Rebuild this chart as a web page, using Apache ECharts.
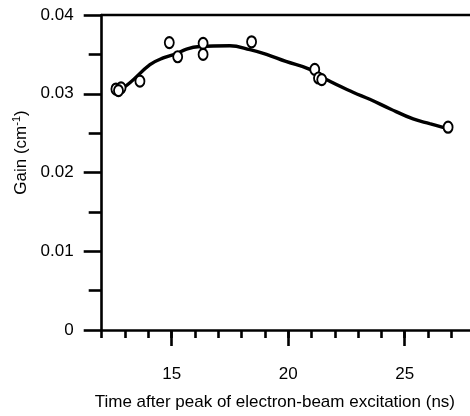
<!DOCTYPE html>
<html>
<head>
<meta charset="utf-8">
<script src="https://cdn.jsdelivr.net/npm/echarts@6/dist/echarts.min.js"></script>
<style>
  html, body { margin: 0; padding: 0; background: #fff; }
  #chart { width: 470px; height: 416px; }
</style>
</head>
<body>
<div id="chart"></div>
<script>
// Measured gain (open circles)
const measuredTime = [12.61, 12.83, 12.72, 13.64, 14.90, 15.26, 16.35, 16.35, 18.43, 21.14, 21.30, 21.44, 26.86];
const measuredGain = [0.0306, 0.03075, 0.0304, 0.0316, 0.0365, 0.0347, 0.0364, 0.0350, 0.0366, 0.0331, 0.0320, 0.0318, 0.02575];

// Model curve
const curveTime = [12.64, 13.21, 14.07, 14.64, 15.21, 15.64, 16.21, 17.5, 18.36, 19.07, 19.9, 20.93, 21.64, 22.78, 23.5, 24.36, 25.36, 26.07, 26.79];
const curveGain = [0.03015, 0.0314, 0.0337, 0.03455, 0.0351, 0.03568, 0.0360, 0.0361, 0.0356, 0.0350, 0.0341, 0.0331, 0.0318, 0.0302, 0.0293, 0.0281, 0.0268, 0.0262, 0.0256];

// Axis ticks
const xMajorTicks = [15, 20, 25];
const xMinorTicks = [12, 13, 14, 15, 16, 17, 18, 19, 20, 21, 22, 23, 24, 25, 26, 27];
const yTickLabels = ['0', '0.01', '0.02', '0.03', '0.04'];

const FONT = 'Liberation Sans, Arial, Helvetica, sans-serif';
const INK = '#000';

const chart = echarts.init(document.getElementById('chart'), null, { renderer: 'canvas' });

const pair = (xs, ys) => xs.map((x, i) => [x, ys[i]]);

chart.setOption({
  animation: false,
  backgroundColor: '#fff',
  grid: { left: 101.7, right: 0, top: 15, bottom: 82.7, containLabel: false },
  xAxis: [
    {
      type: 'value', min: 12, max: 27.8,
      name: 'Time after peak of electron-beam excitation (ns)',
      nameLocation: 'middle', nameGap: 64,
      nameTextStyle: { color: INK, fontFamily: FONT, fontSize: 17, padding: [0, 22, 0, 0] },
      axisLine: { show: true, lineStyle: { color: INK, width: 2.6 } },
      axisTick: { show: true, length: 16, customValues: xMajorTicks, lineStyle: { color: INK, width: 2.6 } },
      axisLabel: { show: true, customValues: xMajorTicks, margin: 36, color: INK, fontFamily: FONT, fontSize: 17 },
      splitLine: { show: false }
    },
    {
      type: 'value', min: 12, max: 27.8, position: 'bottom',
      axisLine: { show: false },
      axisTick: { show: true, length: 8, customValues: xMinorTicks, lineStyle: { color: INK, width: 2.6 } },
      axisLabel: { show: false },
      splitLine: { show: false }
    },
    {
      type: 'value', min: 12, max: 27.8, position: 'top',
      axisLine: { show: true, onZero: false, lineStyle: { color: INK, width: 2.4 } },
      axisTick: { show: false },
      axisLabel: { show: false },
      splitLine: { show: false }
    }
  ],
  yAxis: {
    type: 'value', min: 0, max: 0.04, interval: 0.01,
    name: '{n|Gain (cm}{sup|-1}{n|)}',
    nameLocation: 'middle', nameGap: 70, nameRotate: 90,
    nameTextStyle: {
      color: INK, fontFamily: FONT, fontSize: 17, padding: [0, 0, 0, 40],
      rich: {
        n: { color: INK, fontFamily: FONT, fontSize: 17 },
        sup: { color: INK, fontFamily: FONT, fontSize: 11, padding: [0, 0, 8, 0] }
      }
    },
    axisLine: { show: true, onZero: false, lineStyle: { color: INK, width: 2.6 } },
    axisTick: { show: true, length: 18, lineStyle: { color: INK, width: 2.6 } },
    minorTick: { show: true, splitNumber: 2, length: 13, lineStyle: { color: INK, width: 2.6 } },
    axisLabel: {
      margin: 28, color: INK, fontFamily: FONT, fontSize: 17,
      formatter: (v) => yTickLabels[Math.round(v / 0.01)]
    },
    splitLine: { show: false },
    minorSplitLine: { show: false }
  },
  series: [
    {
      type: 'line', xAxisIndex: 0,
      data: pair(curveTime, curveGain),
      smooth: 0.4, showSymbol: false, symbol: 'none',
      lineStyle: { color: INK, width: 3.4 },
      z: 2
    },
    {
      type: 'scatter', xAxisIndex: 0,
      data: pair(measuredTime, measuredGain),
      symbol: 'emptyCircle', symbolSize: [9, 11],
      itemStyle: { color: INK, borderColor: INK, borderWidth: 2.6, opacity: 1 },
      z: 3
    }
  ]
});
</script>
</body>
</html>
